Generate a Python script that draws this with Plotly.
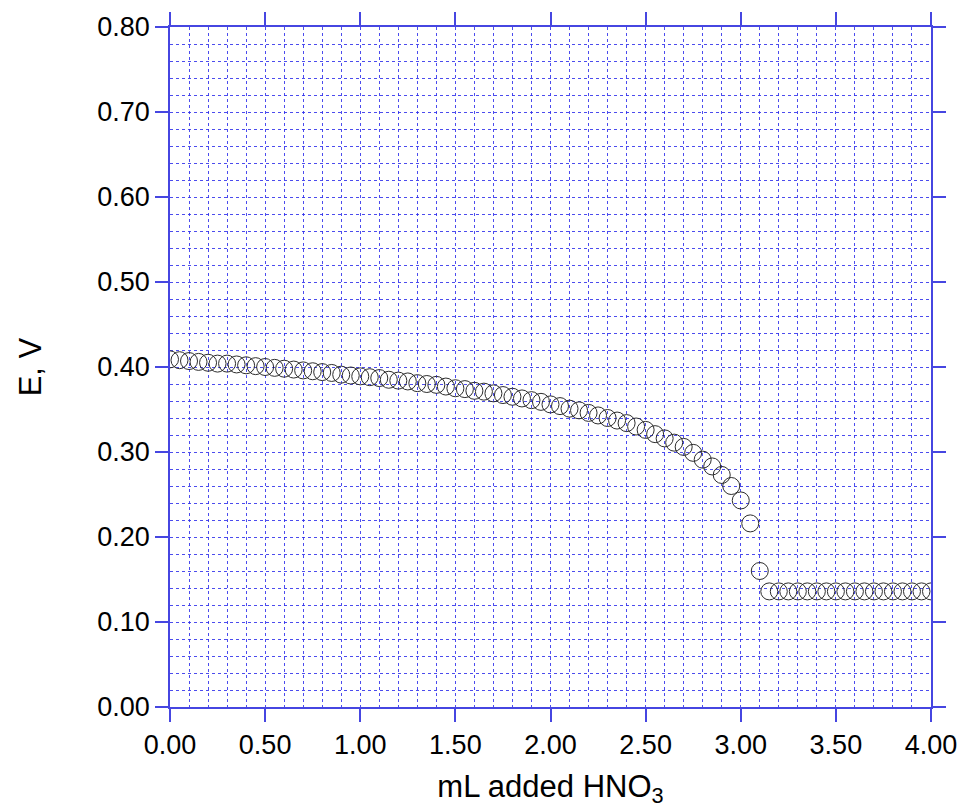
import plotly.graph_objects as go

# mL HNO3 added
volume_ml = [
    0.00, 0.05, 0.10, 0.15, 0.20, 0.25, 0.30, 0.35, 0.40, 0.45,
    0.50, 0.55, 0.60, 0.65, 0.70, 0.75, 0.80, 0.85, 0.90, 0.95,
    1.00, 1.05, 1.10, 1.15, 1.20, 1.25, 1.30, 1.35, 1.40, 1.45,
    1.50, 1.55, 1.60, 1.65, 1.70, 1.75, 1.80, 1.85, 1.90, 1.95,
    2.00, 2.05, 2.10, 2.15, 2.20, 2.25, 2.30, 2.35, 2.40, 2.45,
    2.50, 2.55, 2.60, 2.65, 2.70, 2.75, 2.80, 2.85, 2.90, 2.95,
    3.00, 3.05, 3.10, 3.15, 3.20, 3.25, 3.30, 3.35, 3.40, 3.45,
    3.50, 3.55, 3.60, 3.65, 3.70, 3.75, 3.80, 3.85, 3.90, 3.95,
    4.00,
]

# Potential E, V
potential_v = [
    0.409, 0.408, 0.407, 0.406, 0.405, 0.404, 0.404, 0.403, 0.402, 0.401,
    0.400, 0.399, 0.398, 0.397, 0.396, 0.395, 0.394, 0.393, 0.391, 0.390,
    0.389, 0.388, 0.387, 0.385, 0.384, 0.383, 0.381, 0.380, 0.379, 0.377,
    0.375, 0.374, 0.372, 0.371, 0.369, 0.367, 0.365, 0.363, 0.361, 0.359,
    0.356, 0.354, 0.351, 0.349, 0.346, 0.343, 0.340, 0.337, 0.334, 0.330,
    0.326, 0.321, 0.316, 0.311, 0.306, 0.299, 0.291, 0.283, 0.273, 0.260,
    0.243, 0.216, 0.160, 0.136, 0.136, 0.136, 0.136, 0.136, 0.136, 0.136,
    0.136, 0.136, 0.136, 0.136, 0.136, 0.136, 0.136, 0.136, 0.136, 0.136,
    0.136,
]

x_title = "mL added HNO<sub>3</sub>"
y_title = "E, V"

FONT = "Liberation Sans, Arial, Helvetica, sans-serif"
AXIS_BLUE = "rgb(70,70,225)"
GRID_BLUE = "rgba(45,45,235,0.85)"

fig = go.Figure()
fig.add_trace(go.Scatter(
    x=volume_ml,
    y=potential_v,
    mode="markers",
    marker=dict(symbol="circle-open", size=17,
                line=dict(width=1, color="rgb(45,45,45)"),
                color="rgb(45,45,45)"),
    showlegend=False,
))

common = dict(
    showline=True, linecolor=AXIS_BLUE, linewidth=1.5,
    mirror="ticks", ticks="outside", ticklen=13, tickwidth=1.5,
    tickcolor=AXIS_BLUE, tickformat=".2f",
    tickfont=dict(family=FONT, size=27, color="black"),
    showgrid=True, gridcolor=GRID_BLUE, gridwidth=1, griddash="dot",
    zeroline=False,
)

fig.update_xaxes(
    range=[0, 4], dtick=0.5, tick0=0,
    minor=dict(dtick=0.1, showgrid=True, gridcolor=GRID_BLUE,
               griddash="dot", gridwidth=1, ticks=""),
    title=dict(text=x_title, font=dict(family=FONT, size=31, color="black"),
               standoff=16),
    **common,
)
fig.update_yaxes(
    range=[0, 0.8], dtick=0.1, tick0=0,
    minor=dict(dtick=0.02, showgrid=True, gridcolor=GRID_BLUE,
               griddash="dot", gridwidth=1, ticks=""),
    title=dict(text=y_title, font=dict(family=FONT, size=31, color="black"),
               standoff=46),
    **common,
)

fig.update_layout(
    width=969, height=810,
    margin=dict(l=170, r=31, t=26, b=101),
    plot_bgcolor="white", paper_bgcolor="white",
    font=dict(family=FONT),
)

fig.write_html("out.html")
